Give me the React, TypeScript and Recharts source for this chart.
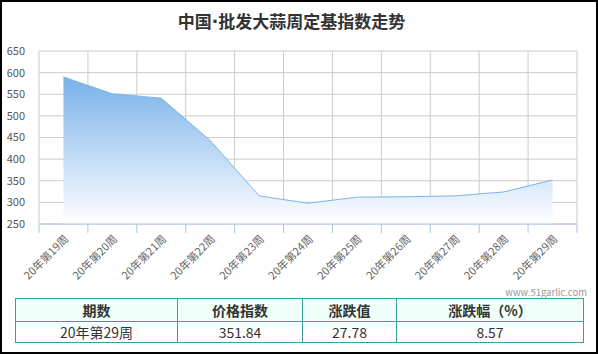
import React from "react";
import { AreaChart, Area, XAxis, YAxis, CartesianGrid } from "recharts";

const weeks = [
  "20年第19周",
  "20年第20周",
  "20年第21周",
  "20年第22周",
  "20年第23周",
  "20年第24周",
  "20年第25周",
  "20年第26周",
  "20年第27周",
  "20年第28周",
  "20年第29周",
];

const indexValues = [590, 551, 541, 443, 315, 298, 312, 313, 315, 324.06, 351.84];

const yTicks = [250, 300, 350, 400, 450, 500, 550, 600, 650];

const tableHeaders = ["期数", "价格指数", "涨跌值", "涨跌幅（%）"];
const tableRow = ["20年第29周", "351.84", "27.78", "8.57"];
const colWidths = [161, 124, 93, 186];

const data = weeks.map((week, i) => ({ week, value: indexValues[i] }));

const FONT = '"Noto Sans CJK SC", "Microsoft YaHei", sans-serif';
const CHART_W = 598;
const MARGIN_RIGHT = 21;
const Y_AXIS_W = 39;
const BAND = (CHART_W - MARGIN_RIGHT - Y_AXIS_W) / weeks.length;

const WeekTick = (props: any) => {
  const { x, y, payload, index } = props;
  const left = x - BAND / 2;
  const right = x + BAND / 2;
  return (
    <g>
      <line x1={left} y1={y} x2={left} y2={y + 9} stroke="#aec6e1" />
      {index === weeks.length - 1 && (
        <line x1={right} y1={y} x2={right} y2={y + 9} stroke="#aec6e1" />
      )}
      <text
        x={x + 3}
        y={y + 13}
        dy="0.35em"
        textAnchor="end"
        fontSize={11}
        fill="#666"
        fontFamily={FONT}
        transform={`rotate(-45 ${x + 3} ${y + 13})`}
      >
        {payload.value}
      </text>
    </g>
  );
};

export default function App() {
  return (
    <div
      style={{
        position: "absolute",
        left: 0,
        top: 0,
        width: 598,
        height: 354,
        boxSizing: "border-box",
        border: "2px solid #000",
        background: "#fff",
        fontFamily: FONT,
        overflow: "hidden",
      }}
    >
      <div
        style={{
          position: "absolute",
          left: -2,
          top: 7,
          width: 583,
          textAlign: "center",
          fontSize: 17,
          fontWeight: "bold",
          color: "#333",
          lineHeight: "24px",
        }}
      >
        中国<span style={{ fontFamily: '"DejaVu Sans", sans-serif' }}>·</span>
        批发大蒜周定基指数走势
      </div>

      <div style={{ position: "absolute", left: -2, top: -2 }}>
        <AreaChart
          width={CHART_W}
          height={290}
          data={data}
          margin={{ top: 51, right: MARGIN_RIGHT, left: 0, bottom: 0 }}
        >
          <defs>
            <linearGradient id="areaFill" x1="0" y1="0" x2="0" y2="1">
              <stop offset="0%" stopColor="#78b1ea" stopOpacity={1} />
              <stop offset="100%" stopColor="#ffffff" stopOpacity={1} />
            </linearGradient>
          </defs>
          <CartesianGrid
            stroke="#cccccc"
            verticalCoordinatesGenerator={({ offset }: any) =>
              Array.from(
                { length: weeks.length + 1 },
                (_, i) => offset.left + (i * offset.width) / weeks.length
              )
            }
          />
          <XAxis
            dataKey="week"
            type="category"
            scale="band"
            interval={0}
            height={66}
            tickLine={false}
            tickSize={0}
            tickMargin={0}
            axisLine={{ stroke: "#aec6e1" }}
            tick={<WeekTick />}
          />
          <YAxis
            width={Y_AXIS_W}
            domain={[250, 650]}
            ticks={yTicks}
            interval={0}
            axisLine={false}
            tickLine={false}
            tickSize={0}
            tickMargin={14}
            tick={{ fontSize: 11, fill: "#555", fontFamily: FONT }}
          />
          <Area
            type="linear"
            dataKey="value"
            stroke="#7fb3e8"
            strokeWidth={1}
            fill="url(#areaFill)"
            fillOpacity={1}
            dot={false}
            activeDot={false}
            isAnimationActive={false}
          />
        </AreaChart>
      </div>

      <div
        style={{
          position: "absolute",
          right: 9,
          top: 284,
          fontSize: 9.5,
          lineHeight: "12px",
          color: "#999",
          whiteSpace: "nowrap",
        }}
      >
        www.51garlic.com
      </div>

      <table
        style={{
          position: "absolute",
          left: 13,
          top: 296,
          borderCollapse: "collapse",
          fontSize: 14,
          color: "#333",
          tableLayout: "fixed",
          width: 565,
        }}
      >
        <tbody>
          <tr style={{ background: "#f0fffa", height: 23 }}>
            {tableHeaders.map((h, i) => (
              <th
                key={h}
                style={{
                  width: colWidths[i],
                  border: "1px solid #35a09c",
                  padding: 0,
                  fontWeight: "bold",
                  textAlign: "center",
                }}
              >
                {h}
              </th>
            ))}
          </tr>
          <tr style={{ height: 21 }}>
            {tableRow.map((c, i) => (
              <td
                key={i}
                style={{
                  border: "1px solid #35a09c",
                  padding: 0,
                  textAlign: "center",
                  fontWeight: "normal",
                }}
              >
                {c}
              </td>
            ))}
          </tr>
        </tbody>
      </table>
    </div>
  );
}
